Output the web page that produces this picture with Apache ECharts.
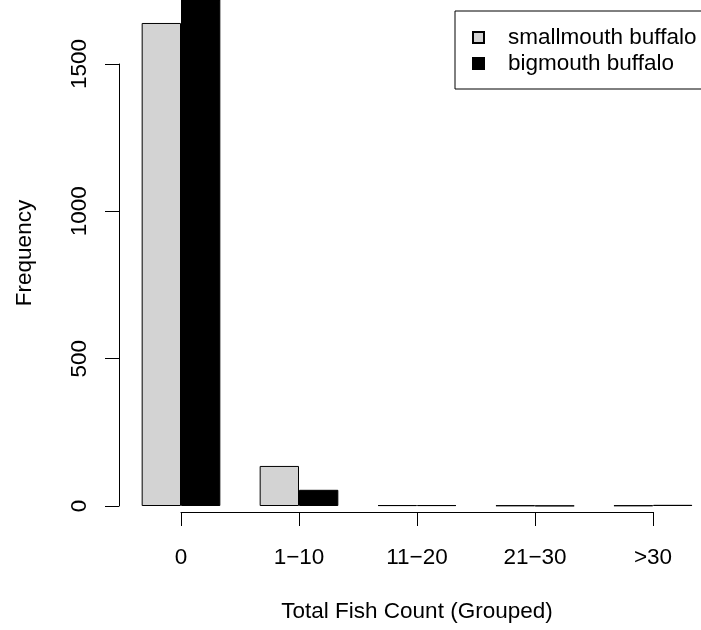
<!DOCTYPE html>
<html>
<head>
<meta charset="utf-8">
<script src="https://cdn.jsdelivr.net/npm/echarts@6/dist/echarts.min.js"></script>
<style>html,body{margin:0;padding:0;background:#fff;overflow:hidden;width:701px;height:630px}#c{width:740px;height:630px}</style>
</head>
<body>
<div id="c"></div>
<script>
const categories = ['0', '1\u221210', '11\u221220', '21\u221230', '>30'];
const smallmouth = [1640, 136, 3, 2, 2];
const bigmouth = [1790, 55, 3, 1, 4];
const yTicks = [0, 500, 1000, 1500];
const seriesNames = ['smallmouth buffalo', 'bigmouth buffalo'];
const xTitle = 'Total Fish Count (Grouped)';
const yTitle = 'Frequency';

const FONT = 'Liberation Sans, Arial, Helvetica, sans-serif';
const FS = 22.5;
const chart = echarts.init(document.getElementById('c'), null, {renderer: 'canvas'});
const hidden = {show: true, axisLine: {show: false}, axisTick: {show: false}, axisLabel: {show: false}, splitLine: {show: false}};

chart.setOption({
  animation: false,
  backgroundColor: '#fff',
  textStyle: {fontFamily: FONT, color: '#000'},
  grid: [
    {left: 122, width: 590, top: 0, bottom: 124},
    {left: 119, width: 10, top: 64, bottom: 124},
    {left: 181, width: 472, bottom: 118, height: 10}
  ],
  xAxis: [
    Object.assign({}, hidden, {gridIndex: 0, type: 'category', data: categories,
      name: xTitle, nameLocation: 'middle', nameGap: 94,
      nameTextStyle: {fontSize: FS, color: '#000', fontFamily: FONT}}),
    {gridIndex: 1, type: 'value', show: false},
    {gridIndex: 2, type: 'category', data: categories, boundaryGap: false,
      axisLine: {show: true, lineStyle: {color: '#000', width: 1}},
      axisTick: {show: true, length: 14, lineStyle: {color: '#000', width: 1}},
      axisLabel: {show: true, fontSize: FS, color: '#000', fontFamily: FONT, margin: 34, interval: 0},
      splitLine: {show: false}}
  ],
  yAxis: [
    Object.assign({}, hidden, {gridIndex: 0, type: 'value', min: 0, max: 1718,
      name: yTitle, nameLocation: 'middle', nameGap: 86, nameRotate: 90,
      nameTextStyle: {fontSize: FS, color: '#000', fontFamily: FONT}}),
    {gridIndex: 1, type: 'value', min: yTicks[0], max: yTicks[yTicks.length - 1], interval: 500,
      axisLine: {show: true, lineStyle: {color: '#000', width: 1}},
      axisTick: {show: true, length: 14, lineStyle: {color: '#000', width: 1}},
      axisLabel: {show: true, rotate: 90, fontSize: FS, color: '#000', fontFamily: FONT, margin: 28,
        formatter: function (v) { return String(v); }},
      splitLine: {show: false}},
    {gridIndex: 2, type: 'value', show: false}
  ],
  legend: {
    orient: 'vertical', left: 455, top: 11,
    borderColor: '#000', borderWidth: 1, borderRadius: 0,
    padding: [15, 40, 14, 17],
    itemWidth: 11, itemHeight: 11, itemGap: 3,
    icon: 'rect',
    textStyle: {fontSize: FS, color: '#000', fontFamily: FONT, padding: [0, 0, 0, 19]},
    data: seriesNames
  },
  series: [
    {name: seriesNames[0], type: 'bar', xAxisIndex: 0, yAxisIndex: 0, data: smallmouth,
      barWidth: '33.33%', barGap: '0%', clip: true,
      itemStyle: {color: '#D3D3D3', borderColor: '#000', borderWidth: 1}},
    {name: seriesNames[1], type: 'bar', xAxisIndex: 0, yAxisIndex: 0, data: bigmouth,
      barWidth: '33.33%', barGap: '0%', clip: true,
      itemStyle: {color: '#000', borderColor: '#000', borderWidth: 1}}
  ]
});
</script>
</body>
</html>
